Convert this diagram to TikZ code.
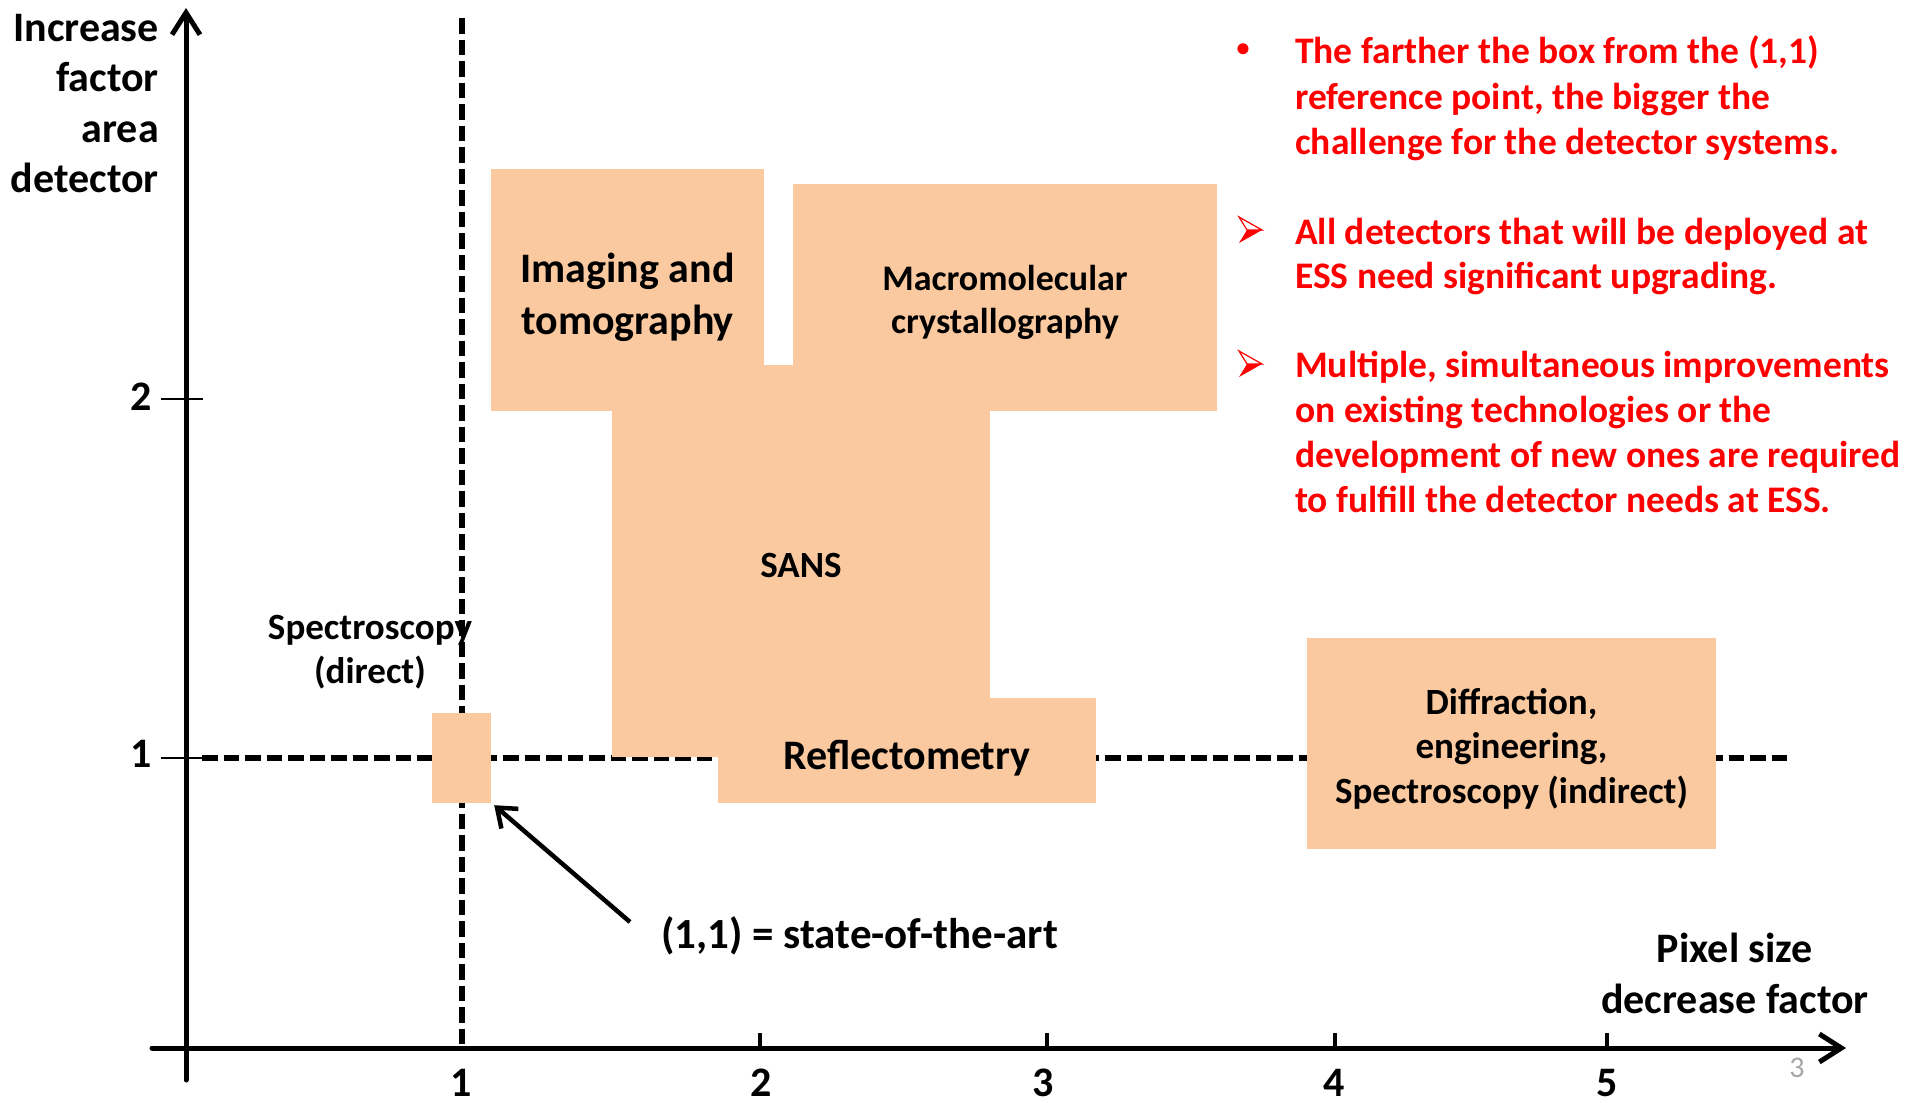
\documentclass[tikz,border=0pt]{standalone}
\usepackage{fontspec}
\setmainfont{Carlito}
\usetikzlibrary{arrows.meta}
\definecolor{peach}{RGB}{251,201,160}
\definecolor{redtxt}{RGB}{255,0,0}
\newcommand\fsz[2]{\fontsize{#1}{#2}\selectfont\bfseries}
\begin{document}
\begin{tikzpicture}[x=1pt,y=-1pt,
  box/.style={fill=peach, draw=none, inner sep=0pt},
  lbl/.style={inner sep=0pt, align=center, text=black},
  redlbl/.style={inner sep=0pt, align=left, text=redtxt},
  dashline/.style={line width=6pt, dash pattern=on 15.5pt off 6pt},
  axisline/.style={line width=5pt, line cap=round, -{Straight Barb[length=22pt,width=28pt,line width=5pt]}},
  pointer/.style={line width=4.5pt, -{Straight Barb[length=17pt,width=26pt,line width=4.5pt]}},
  tickmark/.style={line width=4pt},
  ytickmark/.style={line width=2.5pt},
  arrbul/.pic={
    \filldraw[redtxt, fill=white, line width=1.2pt, line join=miter] (-11,-13) -- (12,0) -- (-3,0) -- cycle;
    \fill[redtxt] (-3,0) -- (12,0) -- (-11,13) -- cycle;
  }
]
\useasboundingbox (0,0) rectangle (1907,1103);

% reference dashed lines
\coordinate (hL) at (202,758);
\coordinate (hR) at (1788,758);
\coordinate (vT) at (462,18);
\coordinate (vB) at (462,1048);
\draw[dashline] (hL) -- (hR);
\draw[dashline] (vT) -- (vB);

% boxes
\node[box, minimum width=378pt, minimum height=392pt] (sans) at (801,561) {};
\node[box, minimum width=273pt, minimum height=242pt] (imaging) at (627.5,290) {};
\node[box, minimum width=424pt, minimum height=227pt] (macro) at (1005,297.5) {};
\node[box, minimum width=378pt, minimum height=105pt] (refl) at (907,750.5) {};
\node[box, minimum width=59pt, minimum height=90pt] (spd) at (461.5,758) {};
\node[box, minimum width=409pt, minimum height=211pt] (diff) at (1511.5,743.5) {};

% box texts
\node[lbl, font=\fsz{37}{44}] (sanst) at ([yshift=-4pt]sans.center) {SANS};
\node[lbl, font=\fsz{42}{52}] (imagingt) at ([yshift=-7pt]imaging.center) {Imaging and\\tomography};
\node[lbl, font=\fsz{36}{42.5}] (macrot) at ([yshift=-5pt]macro.center) {Macromolecular\\crystallography};
\node[lbl, font=\fsz{42}{50}] (reflt) at ([yshift=-7.5pt]refl.center) {Reflectometry};
\node[lbl, font=\fsz{37}{44.5}] (difft) at ([yshift=-5pt]diff.center) {Diffraction,\\engineering,\\Spectroscopy (indirect)};

% axes
\coordinate (yB) at (186,1080);
\coordinate (yT) at (186,8);
\coordinate (xL) at (152,1048);
\coordinate (xR) at (1846,1048);
\draw[axisline] (yB) -- (yT);
\draw[axisline] (xL) -- (xR);

% ticks
\foreach \tx in {760,1047,1335,1607} \draw[tickmark] (\tx,1033) -- (\tx,1050);
\draw[ytickmark] (161,399) -- (203,399);
\draw[ytickmark] (161,758) -- (203,758);

% tick labels
\node[lbl, anchor=base, font=\fsz{42}{50}] (tx1) at (461,1096) {1};
\node[lbl, anchor=base, font=\fsz{42}{50}] (tx2) at (761,1096) {2};
\node[lbl, anchor=base, font=\fsz{42}{50}] (tx3) at (1043,1096) {3};
\node[lbl, anchor=base, font=\fsz{42}{50}] (tx4) at (1334,1096) {4};
\node[lbl, anchor=base, font=\fsz{42}{50}] (tx5) at (1607,1096) {5};
\node[lbl, anchor=base, font=\fsz{42}{50}] (ty2) at (141,410) {2};
\node[lbl, anchor=base, font=\fsz{42}{50}] (ty1) at (141,767) {1};

% axis titles
\node[lbl, align=right, anchor=east, font=\fsz{42}{50.5}] (ytitle) at (159,103.5) {Increase\\factor\\area\\detector};
\node[lbl, anchor=center, font=\fsz{42}{51}] (xtitle) at (1735,973) {Pixel size\\decrease factor};

% labels
\node[lbl, anchor=center, font=\fsz{37}{44}] (spdlbl) at (370,652.5) {Spectroscopy\\(direct)};
\node[lbl, anchor=base west, font=\fsz{43}{50}] (statelbl) at (661,948) {(1,1) = state-of-the-art};
\coordinate (arrS) at (630,922);
\draw[pointer] (arrS) -- ([shift={(3,2)}]spd.south east);

% red notes
\node[inner sep=0pt, text=redtxt, font=\fsz{26}{30}] (b1) at (1243,50) {•};
\pic at (1250,230) {arrbul};
\pic at (1250,364) {arrbul};
\node[redlbl, anchor=west, font=\fsz{37.5}{45.6}] (n1) at (1295,98.5) {The farther the box from the (1,1)\\reference point, the bigger the\\challenge for the detector systems.};
\node[redlbl, anchor=west, font=\fsz{37.5}{44}] (n2) at (1295,256.5) {All detectors that will be deployed at\\ESS need significant upgrading.};
\node[redlbl, anchor=west, font=\fsz{37.5}{45}] (n3) at (1295,432) {Multiple, simultaneous improvements\\on existing technologies or the\\development of new ones are required\\to fulfill the detector needs at ESS.};

% page number
\node[lbl, anchor=base, text=gray!70, font=\fontsize{30}{36}\selectfont] (pg) at (1797,1077) {3};
\end{tikzpicture}
\end{document}
